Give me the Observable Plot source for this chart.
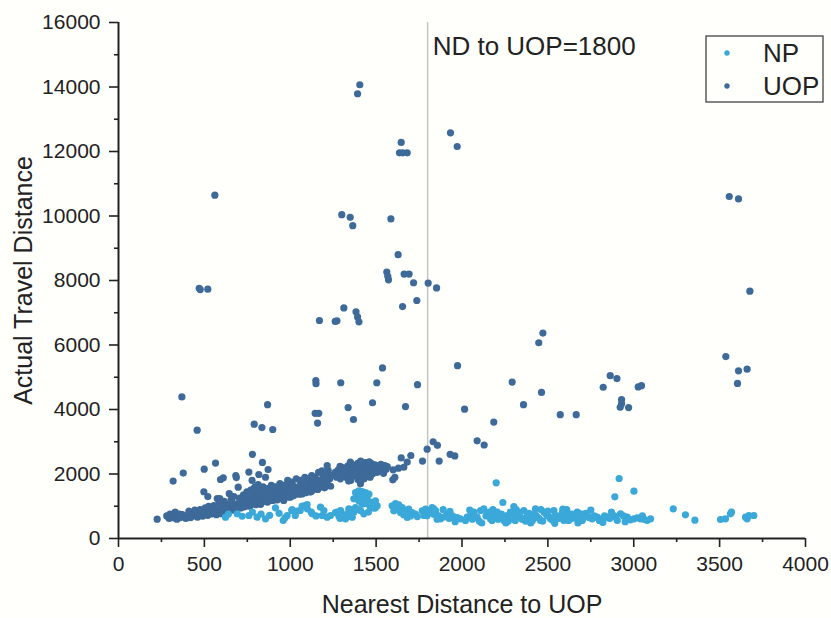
<!DOCTYPE html>
<html>
<head>
<meta charset="utf-8">
<script src="https://cdn.jsdelivr.net/npm/d3@7"></script>
<script src="https://cdn.jsdelivr.net/npm/@observablehq/plot@0.6"></script>
<style>
  html, body { margin: 0; padding: 0; background: #fffffc; }
  #wrap { position: relative; width: 831px; height: 618px; }
  #legend { position: absolute; left: 0; top: 0; pointer-events: none; }
</style>
</head>
<body>
<div id="wrap"></div>
<script>
// ---- data ----
const series = ["NP", "UOP"];
const seriesColors = ["#3aa8d8", "#3d6a99"];
const threshold = 1800;
const xTicks = [0, 500, 1000, 1500, 2000, 2500, 3000, 3500, 4000];
const xMinor = [250, 750, 1250, 1750, 2250, 2750, 3250, 3750];
const yTicks = [0, 2000, 4000, 6000, 8000, 10000, 12000, 14000, 16000];
const yMinor = [1000, 3000, 5000, 7000, 9000, 11000, 13000, 15000];
const xTitle = "Nearest Distance to UOP";
const yTitle = "Actual Travel Distance";

// UOP: [nearest distance, actual travel distance]
const uopPoints = [
  [1405,14070],[1392,13790],[1646,12280],[1636,11960],[1655,11960],[1681,11960],[1933,12580],[1972,12155],
  [561,10645],[1300,10040],[1349,9960],[1364,9700],[1586,9910],[3556,10605],[3610,10530],[1628,8800],
  [1562,8260],[1568,8130],[1572,8020],[1663,8200],[1692,8200],[1718,7930],[1803,7920],[1852,7770],
  [470,7760],[476,7720],[520,7730],[3676,7670],[1737,7380],[1654,7190],[1312,7150],[1383,7030],[1392,6870],
  [1400,6720],[1170,6760],[1262,6730],[1272,6750],[2471,6370],[2447,6070],[1974,5360],[3536,5640],[3610,5200],
  [3660,5250],[3604,4810],[1537,5290],[1149,4900],[1150,4800],[1294,4830],[1504,4830],[1741,4770],[2292,4850],
  [2463,4530],[2358,4150],[2015,4010],[2822,4690],[2863,5050],[2902,4960],[3026,4700],[3045,4740],[2929,4310],
  [2929,4180],[2921,4070],[2970,4060],[2572,3840],[2665,3840],[2185,3610],[2088,3030],[2129,2900],[369,4390],
  [868,4150],[1479,4210],[1337,4060],[1671,4090],[1145,3880],[1166,3880],[1159,3580],[1368,3690],[790,3545],
  [835,3440],[898,3380],[458,3360],[1832,3000],[1857,2890],[1797,2770],[1931,2610],[1958,2560],[1770,2400],
  [1867,2400],[1702,2570],[1646,2500],[1681,2370],[1661,2210],[1599,2130],[1630,2180],[1609,1900],[1597,1820],
  [318,1780],[377,2030],[499,2150],[565,2340],[780,2610],[838,2360],[871,2140],[759,2060],[817,1985],[856,1900],
  [683,1950],[686,1890],[594,1830],[610,1880],[778,1800],[813,1670],[697,1590],[497,1450],[645,1390],[520,1300],
  [575,1240],[590,1240],[988,1700],[1122,1750],[225,600],
  [1255,1960],[1262,2050],[1270,1900],[1278,2120],[1285,1990],[1292,1850],[1300,2080],[1305,2200],[1312,1950],
  [1318,2020],[1325,2150],[1330,1880],[1336,2250],[1342,2000],[1348,2100],[1352,1800],[1358,2300],[1363,1930],
  [1368,2180],[1373,2050],[1378,2260],[1383,1980],[1388,2120],[1393,2330],[1398,1900],[1403,2220],[1408,2060],
  [1413,2300],[1418,1960],[1423,2150],[1428,2250],[1433,2010],[1438,2350],[1443,2100],[1448,2200],[1453,1940],
  [1458,2280],[1463,2060],[1468,2170],[1473,2320],[1478,2000],[1483,2240],[1488,2120],[1493,2280],[1498,2180],
  [1505,2050],[1512,2250],[1520,2150],[1528,2300],[1535,2200],[1543,2020],[1550,2260],[1558,2150],[1565,2230],
  [1340,1780],[1395,1820],[1430,1850],[1465,1900],[1290,2240],[1350,2370],[1410,2400],[1460,2380],[1409,1695],
  [1205,1860],[1215,1700],[1196,2000],[1215,2260],[1221,2110],[1128,1700],[1137,1550],[1118,1440],[1099,1550],
  [1079,1600],[1069,1380],[1060,1570],[1040,1385],[1001,1280],[962,1180],
  [281,700],[295,620],[300,760],[310,680],[320,640],[332,720],[340,600],[350,690],[360,650],[372,740],[385,680],
  [392,620],[400,710],[412,760],[420,650],[430,700],[440,780],[452,720],[460,660],[468,800],[480,740],[490,690],
  [500,770],[512,830],[520,720],[530,800],[540,760],[552,860],[560,800],[570,740],[580,880],[590,820],[600,770],
  [612,900],[620,840],[630,790],[640,920],[650,860],[660,1000],[668,930],[676,880],[685,1050],[692,980],[700,1100],
  [708,1020],[715,950],[722,1150],[730,1080],[738,1200],[745,1010],[752,1130],[760,1250],[768,1060],[775,1180],
  [782,1320],[790,1100],[798,1230],[805,1400],[786,1540],[812,1150],[820,1280],[828,1060],[836,1350],[845,1200],
  [852,1420],[860,1300],[868,1130],[876,1380],[885,1250],[893,1480],[900,1320],[910,1200],[918,1420],[927,1300],
  [935,1520],[944,1380],[952,1260],[960,1460],[970,1340],[978,1560],[988,1420],[996,1300],[1005,1520],[1015,1400],
  [1024,1610],[1033,1470],[1042,1560],[1050,1380],[1060,1660],[1070,1500],[1080,1580],[1090,1700],[1100,1450],
  [1110,1620],[1120,1530],[1130,1760],[1140,1640],[1150,1540],[1160,1800],[1170,1700],[1180,1600],[1190,1900],
  [1200,1780],[1210,1680],[1220,2000],[1230,1850],[1240,1950],
  [330,820],[355,760],[410,850],[445,880],[475,900],[505,950],[525,1000],[555,1020],[585,1100],[615,1150],
  [635,1050],[655,1200],[672,1300],[705,1250],[728,1350],[748,1450],[770,1500],[795,1600],[815,1500],[842,1600],
  [865,1550],[890,1650],[915,1600],[940,1700],[962,1650],[985,1800],[1010,1750],[1035,1850],[1058,1800],
  [1085,1900],[1105,1850],[1125,1950],[1145,1900],[1165,2050],[1185,2100],[595,950],[625,1000],[665,1100],
  [705,950],[735,980],[765,1000],[800,1050],[830,1100],[860,1150],[895,1180],[925,1200],[955,1240],[990,1280],
  [1020,1330],[1055,1380],[1090,1420],[1125,1470],[1160,1520],[1200,1570],[1235,1620]
];

// NP: [nearest distance, actual travel distance]
const npPoints = [
  [623,661],[640,760],[691,765],[720,690],[759,713],[780,820],[807,661],[830,760],[856,610],[880,720],[914,951],
  [935,780],[959,558],[970,640],[982,713],[1009,868],[1011,899],[1029,713],[1040,847],[1058,868],[1069,1003],
  [1089,1023],[1098,1054],[1099,920],[1122,816],[1128,765],[1150,700],[1176,972],[1186,713],[1196,868],[1215,661],
  [1234,713],[1263,800],[1273,816],[1283,700],[1293,868],[1302,661],[1312,713],[1322,610],[1331,765],[1341,920],
  [1351,889],[1361,661],[1370,816],[1290,620],[1335,680],[1355,760],
  [1380,1427],[1390,1323],[1399,1478],[1409,1271],[1419,1458],[1428,1323],[1438,1427],[1448,1220],[1458,1375],
  [1399,1168],[1419,1065],[1438,1116],[1467,961],[1380,961],[1409,868],[1428,764],[1448,1075],[1370,1230],
  [1399,1282],[1428,1178],[1496,951],[1496,1168],[1506,1013],[1487,940],[1467,1127],[1390,900],[1455,820],
  [1593,1013],[1613,1085],[1632,1044],[1652,961],[1671,858],[1690,910],[1710,806],[1729,754],[1603,858],
  [1642,806],[1681,651],[1620,920],[1660,740],[1700,700],[1740,680],[1661,816],[1681,765],
  [1768,858],[1778,713],[1788,910],[1797,703],[1807,806],[1817,816],[1826,961],[1836,754],[1846,858],[1855,713],
  [1865,703],[1875,610],[1885,651],[1914,754],[1943,703],[1953,661],[1972,651],[1991,610],[1855,600],[1836,920],
  [1900,680],[1925,620],
  [2030,661],[2050,713],[2069,816],[2088,661],[2108,868],[2127,920],[2147,765],[2166,610],[2185,713],[2205,816],
  [2224,661],[2244,558],[2263,713],[2282,816],[2302,610],[2321,765],[2341,661],[2360,868],[2380,713],[2399,610],
  [2418,765],[2438,661],[2457,558],[2477,816],[2496,713],[2515,610],[2535,868],[2554,661],[2574,713],[2593,558],
  [2612,765],[2632,610],[2651,713],[2671,816],[2690,765],[2709,661],[2729,713],[2758,610],[2787,661],[2816,610],
  [2845,661],[2884,713],[2904,558],[2923,765],[2962,661],[3001,610],[3039,610],[3078,558],[3098,610],
  [2020,560],[2060,600],[2100,540],[2140,700],[2175,560],[2210,600],[2230,760],[2250,650],[2270,540],[2290,700],
  [2310,560],[2330,820],[2350,600],[2370,540],[2390,780],[2410,560],[2430,720],[2450,620],[2470,540],[2490,760],
  [2510,660],[2530,560],[2545,720],[2565,620],[2585,800],[2600,680],[2620,560],[2640,760],[2660,620],[2680,700],
  [2700,560],[2720,780],[2740,650],[2770,700],[2800,560],[2830,700],[2860,620],[2895,660],[2940,700],[2980,580],
  [3020,640],[3060,600],
  [1890,900],[1960,520],[2045,880],[2115,480],[2180,900],[2255,480],[2315,900],[2400,480],[2460,900],[2540,470],
  [2610,900],[2675,480],[2750,880],[2820,500],[2870,820],[2950,520],[3050,700],[1930,840],[2160,820],[2500,850],
  [2199,1727],[2238,1116],[2302,993],[2428,920],[2587,910],[2915,1861],[2890,1292],[3001,1468],[3230,920],
  [3301,734],[3356,568],[3505,589],[3534,610],[3563,765],[3569,817],[3651,661],[3670,713],[3699,713],[3660,610]
];

// ---- chart ----
const axisColor = "#222";
const chart = Plot.plot({
  width: 831,
  height: 618,
  marginLeft: 118,
  marginRight: 26,
  marginTop: 22,
  marginBottom: 80,
  x: {domain: [0, 4000], axis: null},
  y: {domain: [0, 16000], axis: null},
  style: {fontFamily: "'Liberation Sans', Arial, sans-serif", fontSize: "21px", background: "#fffffc", color: axisColor},
  marks: [
    Plot.ruleX([threshold], {stroke: "#c4c4c4", strokeWidth: 1.5}),
    Plot.dot(uopPoints, {x: d => d[0], y: d => d[1], r: 3.6, fill: seriesColors[1]}),
    Plot.dot(npPoints, {x: d => d[0], y: d => d[1], r: 3.6, fill: seriesColors[0]}),
    Plot.ruleY([0], {stroke: axisColor, strokeWidth: 2}),
    Plot.ruleX([0], {stroke: axisColor, strokeWidth: 2}),
    Plot.axisX(xTicks, {tickSize: 9, tickPadding: 9, tickFormat: d3.format("d"), fontSize: 21, stroke: axisColor, strokeWidth: 1.6}),
    Plot.axisX(xMinor, {tickSize: 4, tickFormat: () => "", stroke: axisColor, strokeWidth: 1.6}),
    Plot.axisY(yTicks, {tickSize: 9, tickPadding: 9, tickFormat: d3.format("d"), fontSize: 21, stroke: axisColor, strokeWidth: 1.6}),
    Plot.axisY(yMinor, {tickSize: 4, tickFormat: () => "", stroke: axisColor, strokeWidth: 1.6}),
    Plot.text([xTitle], {text: d => d, frameAnchor: "bottom", dy: 74, lineAnchor: "bottom", textAnchor: "middle", fontSize: 25, fill: axisColor}),
    Plot.text([yTitle], {text: d => d, frameAnchor: "left", rotate: -90, dx: -87, lineAnchor: "bottom", textAnchor: "middle", fontSize: 25, fill: axisColor}),
    Plot.text([threshold], {x: d => d, text: d => `ND to UOP=${d}`, frameAnchor: "top", textAnchor: "start", lineAnchor: "bottom", dx: 5, dy: 32, fontSize: 26, fill: axisColor})
  ]
});
const wrap = document.getElementById("wrap");
wrap.appendChild(chart);

// ---- legend ----
const leg = d3.select(wrap).append("svg")
  .attr("id", "legend").attr("width", 831).attr("height", 618)
  .style("font-family", "'Liberation Sans', Arial, sans-serif");
leg.append("rect").attr("x", 706).attr("y", 36).attr("width", 117).attr("height", 66)
  .attr("fill", "none").attr("stroke", "#333").attr("stroke-width", 1.2);
series.forEach((s, i) => {
  leg.append("circle").attr("cx", 727).attr("cy", 53 + i * 33).attr("r", 2.7).attr("fill", seriesColors[i]);
  leg.append("text").attr("x", 763).attr("y", 62 + i * 33).attr("font-size", 26).attr("fill", "#222").text(s);
});
</script>
</body>
</html>
